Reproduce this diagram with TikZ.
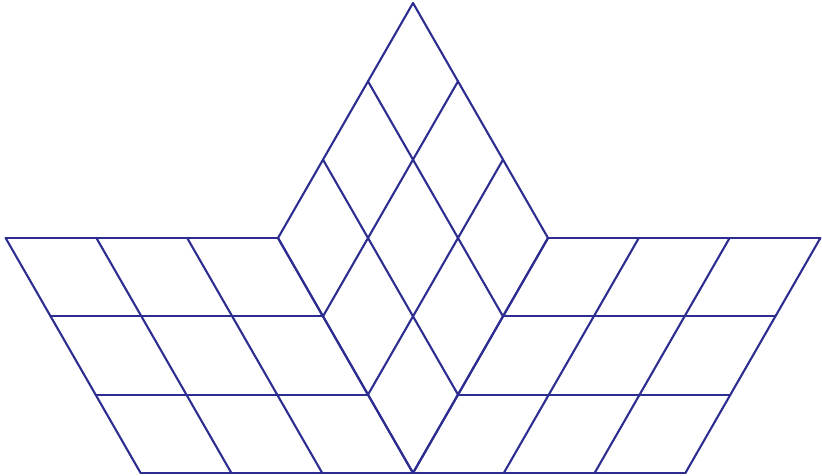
\documentclass[tikz,border=0pt]{standalone}
\begin{document}
\begin{tikzpicture}[x=1pt,y=-1pt]
\definecolor{gridblue}{RGB}{45,45,145}
\tikzset{gridline/.style={draw=gridblue,line width=2.1pt,line join=miter,line cap=round}}
\useasboundingbox (0,0) rectangle (822,476);
% parameters
\def\cx{413}
\def\ty{3}
\def\dx{45}
\def\dy{78.33}
\def\w{90.8}
% Diamond (top): T + a*u + b*v, u=(-dx,dy), v=(dx,dy)
\foreach \a in {0,1,2,3}{
  \draw[gridline] ({\cx-\a*\dx},{\ty+\a*\dy}) -- ({\cx-\a*\dx+3*\dx},{\ty+\a*\dy+3*\dy});
  \draw[gridline] ({\cx+\a*\dx},{\ty+\a*\dy}) -- ({\cx+\a*\dx-3*\dx},{\ty+\a*\dy+3*\dy});
}
% Left grid
\foreach \r in {0,1,2,3}{
  \draw[gridline] ({\cx-3*\dx-3*\w+\r*\dx},{\ty+3*\dy+\r*\dy}) -- ({\cx-3*\dx+\r*\dx},{\ty+3*\dy+\r*\dy});
  \draw[gridline] ({\cx-3*\dx-\r*\w},{\ty+3*\dy}) -- ({\cx-\r*\w},{\ty+6*\dy});
}
% Right grid
\foreach \r in {0,1,2,3}{
  \draw[gridline] ({\cx+3*\dx-\r*\dx},{\ty+3*\dy+\r*\dy}) -- ({\cx+3*\dx+3*\w-\r*\dx},{\ty+3*\dy+\r*\dy});
  \draw[gridline] ({\cx+3*\dx+\r*\w},{\ty+3*\dy}) -- ({\cx+\r*\w},{\ty+6*\dy});
}
\end{tikzpicture}
\end{document}
